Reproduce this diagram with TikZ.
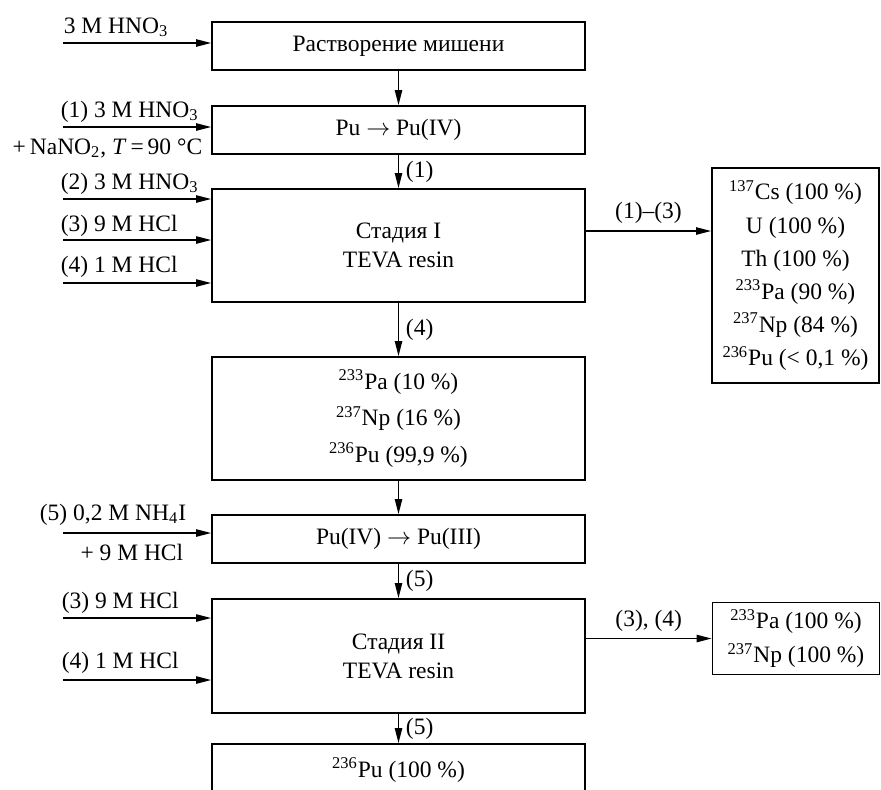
\documentclass[tikz,border=0pt]{standalone}
\usepackage{fontspec}
\setmainfont{Liberation Serif}
\usetikzlibrary{arrows.meta,positioning}

\begin{document}
\begin{tikzpicture}[x=0.5pt,y=-0.5pt,on grid,auto,line width=0.8pt,
	>={Triangle[length=7.5pt,width=3.6pt]},
	font=\fontsize{11.75pt}{14.5pt}\selectfont,
	box/.style={draw,align=center,minimum width=186.5pt},
	res/.style={draw,align=center,minimum width=83.5pt},
	lbl/.style={inner sep=0pt}]
	\clip (0,0) rectangle (881,789);
	\node[box,minimum height=24pt] (b_1) at (398.5,46) {Растворение мишени};
	\node[box,minimum height=24pt] (b_2) [below=42pt of b_1] {Pu $\rightarrow$ Pu(IV)};
	\node[box,minimum height=56.5pt] (b_3) [below=57.75pt of b_2] {Стадия I\\TEVA resin};
	\node[box,minimum height=61.5pt,font=\fontsize{11.75pt}{18.25pt}\selectfont] (b_4) [below=86.5pt of b_3]
		{\textsuperscript{233}Pa (10~\%)\\\textsuperscript{237}Np (16~\%)\\\textsuperscript{236}Pu (99,9~\%)};
	\node[box,minimum height=24pt] (b_5) [below=60.25pt of b_4] {Pu(IV) $\rightarrow$ Pu(III)};
	\node[box,minimum height=57pt] (b_6) [below=58.5pt of b_5] {Стадия II\\TEVA resin};
	\node[box,minimum height=26pt] (b_7) [below=57pt of b_6] {\textsuperscript{236}Pu (100~\%)};
	\node[res,minimum height=107.5pt,font=\fontsize{11.75pt}{16.6pt}\selectfont] (r_1) at (795.5,275.5)
		{\textsuperscript{137}Cs (100~\%)\\U (100~\%)\\Th (100~\%)\\\textsuperscript{233}Pa (90~\%)\\\textsuperscript{237}Np (84~\%)\\\textsuperscript{236}Pu (<~0,1~\%)};
	\node[res,minimum height=31.5pt,font=\fontsize{11.75pt}{17pt}\selectfont] (r_2) at (796,638.5)
		{\textsuperscript{233}Pa (100~\%)\\\textsuperscript{237}Np (100~\%)};
	% reagents
	\node[lbl,anchor=base west] (t_1) at (63,33) {3 M HNO\textsubscript{3}};
	\node[lbl,anchor=base west] (t_2) at (60,117) {(1) 3 M HNO\textsubscript{3}};
	\node[lbl,anchor=base east] (t_3) at (203,154) {+\,NaNO\textsubscript{2}, \textit{T}\,=\,90~°C};
	\node[lbl,anchor=base west] (t_4) at (60,189) {(2) 3 M HNO\textsubscript{3}};
	\node[lbl,anchor=base west] (t_5) at (60,231) {(3) 9 M HCl};
	\node[lbl,anchor=base west] (t_6) at (60,272) {(4) 1 M HCl};
	\node[lbl,anchor=base east] (t_7) at (187,520) {(5) 0,2 M NH\textsubscript{4}I};
	\node[lbl,anchor=base east] (t_8) at (184,560) {+ 9 M HCl};
	\node[lbl,anchor=base west] (t_9) at (61,608) {(3) 9 M HCl};
	\node[lbl,anchor=base west] (t_10) at (61,668) {(4) 1 M HCl};
	\coordinate (i_1) at (63,43);
	\coordinate (i_2) at (63,127);
	\coordinate (i_3) at (63,199);
	\coordinate (i_4) at (63,240);
	\coordinate (i_5) at (63,283);
	\coordinate (i_6) at (63,533);
	\coordinate (i_7) at (63,618);
	\coordinate (i_8) at (63,680);
	\coordinate (o_1) at (650,231);
	\draw[->] (i_1) -- (i_1 -| b_1.west);
	\draw[->] (i_2) -- (i_2 -| b_2.west);
	\draw[->] (i_3) -- (i_3 -| b_3.west);
	\draw[->] (i_4) -- (i_4 -| b_3.west);
	\draw[->] (i_5) -- (i_5 -| b_3.west);
	\draw[->] (i_6) -- (i_6 -| b_5.west);
	\draw[->] (i_7) -- (i_7 -| b_6.west);
	\draw[->] (i_8) -- (i_8 -| b_6.west);
	% flow
	\path[->]
	(b_1) edge (b_2)
	(b_2) edge node {(1)} (b_3)
	(b_3) edge node {(4)} (b_4)
	(b_4) edge (b_5)
	(b_5) edge node {(5)} (b_6)
	(b_6) edge node {(5)} (b_7)
	(o_1 -| b_3.east) edge node {(1)–(3)} (o_1 -| r_1.west)
	(r_2.west -| b_6.east) edge node {(3), (4)} (r_2.west)
	;
\end{tikzpicture}
\end{document}
